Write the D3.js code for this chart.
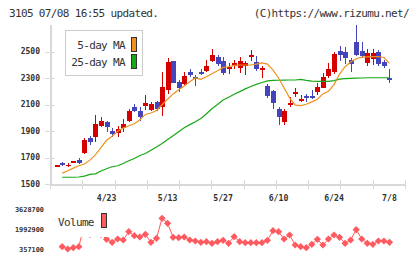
<!DOCTYPE html>
<html>
<head>
<meta charset="utf-8">
<script src="https://cdn.jsdelivr.net/npm/d3@7"></script>
<style>
  body { margin: 0; background: #fff; }
  svg { display: block; }
  text { font-family: "DejaVu Sans Mono", monospace; fill: #333; }
</style>
</head>
<body>
<svg id="chart" width="420" height="259"></svg>
<script>

// trading days, only the labelled ones are named
const dateLabels = [ [9,"4/23"], [20,"5/13"], [30,"5/27"], [40,"6/10"], [50,"6/24"], [60,"7/8"] ]

const openP  = [1630,1655,1636,1663,1683,1732,1845,1857,1938,1966,1902,1885,1923,1978,2083,2053,2085,2060,2117,2083,
                2209,2428,2270,2257,2345,2307,2345,2355,2428,2458,2428,2368,2388,2379,2394,2456,2419,2360,2240,2204,
                2068,1968,2098,2179,2125,2164,2164,2194,2227,2315,2345,2504,2496,2436,2572,2502,2415,2445,2496,2421,2302]
const highP  = [1640,1666,1661,1675,1696,1850,1862,2021,2003,1973,1920,1940,1988,2064,2101,2079,2170,2121,2128,2349,
                2453,2428,2285,2347,2366,2322,2366,2436,2519,2474,2456,2411,2436,2456,2430,2511,2466,2391,2255,2209,
                2083,2064,2159,2224,2170,2181,2209,2260,2340,2415,2494,2542,2532,2449,2700,2572,2519,2519,2511,2434,2368]
const lowP   = [1630,1636,1626,1660,1651,1724,1792,1815,1928,1892,1857,1855,1895,1970,2046,1975,2060,2051,2049,2013,
                2179,2264,2197,2246,2310,2238,2322,2347,2419,2391,2322,2330,2370,2338,2325,2426,2355,2300,2147,2068,
                1948,1948,2079,2155,2117,2121,2140,2170,2222,2302,2330,2430,2403,2347,2466,2453,2393,2396,2391,2379,2260]
const closeP = [1640,1645,1646,1673,1658,1832,1819,1953,1973,1933,1880,1915,1953,2051,2053,2008,2115,2104,2066,2230,
                2421,2264,2222,2315,2325,2290,2332,2391,2474,2406,2340,2385,2413,2426,2411,2471,2370,2374,2164,2109,
                2008,2053,2114,2194,2140,2151,2149,2230,2307,2368,2483,2471,2453,2408,2476,2468,2489,2491,2408,2388,2283]

const ma5  = [null,1582,1600,1620,1638,1651,1680,1722,1775,1830,1860,1898,1922,1940,1955,1985,2025,2036,2055,2098,
              2140,2180,2212,2240,2272,2300,2290,2310,2332,2355,2380,2385,2395,2398,2398,2398,2405,2414,2405,2360,
              2300,2225,2150,2095,2092,2102,2120,2140,2180,2200,2250,2330,2385,2420,2445,2457,2460,2462,2462,2455,2411]
const ma25 = [null,1551,1551,1551,1553,1560,1572,1577,1598,1615,1630,1638,1655,1676,1692,1715,1730,1755,1780,1805,
              1835,1865,1895,1925,1948,1970,1995,2030,2068,2100,2134,2155,2178,2197,2218,2236,2252,2266,2278,2282,
              2283,2284,2285,2285,2290,2282,2276,2275,2275,2275,2280,2292,2295,2297,2299,2300,2302,2302,2302,2302,2302]

const volume = [null,569800,381600,488000,569800,2426400,1567600,2262800,1567600,1175000,929600,1199500,1117800,1796600,1469400,1363100,1584000,929600,1256800,2892600,
                2483600,1338600,1305900,1363100,1117800,1036000,929600,978700,847800,978700,1093200,847800,1387700,978700,896900,896900,896900,896900,1093200,1878400,
                1796600,1199500,1526700,708800,569800,488000,766000,1175000,708800,1199500,1526700,1338600,847800,1117800,1960200,1199500,847800,766000,1036000,1036000,929600]

const priceTicks  = [1500,1700,1900,2100,2300,2500]
const volumeTicks = [357100,1992900,3628700]

const svg = d3.select("#chart")

const x = d3.scaleLinear()
            .domain( [-1.2, 62.8] )
            .range( [50, 405] )

const y = d3.scaleLinear()
            .domain( [1500, 2700] )
            .range( [184, 25] )

const yVol = d3.scaleLinear()
               .domain( [357100, 3628700] )
               .range( [249.3, 209.3] )

const gridColor = "#d8d8d8"

// header
svg.append("text")
   .attr("x", 9).attr("y", 16.5)
   .attr("font-size", 11).attr("letter-spacing", -0.65)
   .text("3105 07/08 16:55 updated.")

svg.append("text")
   .attr("x", 409).attr("y", 16.5)
   .attr("text-anchor", "end")
   .attr("font-size", 11).attr("letter-spacing", -0.65)
   .text("(C)https://www.rizumu.net/")

// axes
const axisG = svg.append("g").attr("shape-rendering", "crispEdges")

axisG.append("line")
     .attr("x1", 50.5).attr("x2", 50.5)
     .attr("y1", 25).attr("y2", 184)
     .attr("stroke", gridColor).attr("stroke-width", 2)

axisG.append("line")
     .attr("x1", 50).attr("x2", 405)
     .attr("y1", 184.5).attr("y2", 184.5)
     .attr("stroke", gridColor).attr("stroke-width", 2)

axisG.selectAll(".ytick")
     .data( priceTicks )
     .enter()
     .append("line")
     .attr("x1", 45).attr("x2", 55)
     .attr("y1", d => Math.round(y(d)) + 0.5)
     .attr("y2", d => Math.round(y(d)) + 0.5)
     .attr("stroke", gridColor).attr("stroke-width", 1.5)

svg.selectAll(".ylabel")
   .data( priceTicks )
   .enter()
   .append("text")
   .attr("x", 40)
   .attr("y", d => y(d))
   .attr("dy", "0.35em")
   .attr("text-anchor", "end")
   .attr("font-size", 8).attr("font-weight", "bold")
   .text( d => d )

const xTicks = d3.scaleLinear().domain([0, 11]).range([50, 405])

axisG.selectAll(".xtick")
     .data( d3.range(12) )
     .enter()
     .append("line")
     .attr("x1", d => Math.round(xTicks(d)) + 0.5)
     .attr("x2", d => Math.round(xTicks(d)) + 0.5)
     .attr("y1", 180).attr("y2", 189)
     .attr("stroke", gridColor).attr("stroke-width", 1.5)

svg.selectAll(".xlabel")
   .data( dateLabels )
   .enter()
   .append("text")
   .attr("x", d => x(d[0]))
   .attr("y", 201)
   .attr("text-anchor", "middle")
   .attr("font-size", 8.2).attr("font-weight", "bold")
   .text( d => d[1] )

// candles
const candleData = closeP.map( (c, i) => ({ i: i, o: openP[i], h: highP[i], l: lowP[i], c: c }) )

const candles = svg.append("g")
                   .attr("shape-rendering", "crispEdges")
                   .selectAll("g")
                   .data( candleData )
                   .enter()
                   .append("g")

candles.append("line")
       .attr("x1", d => Math.round(x(d.i)) + 0.5)
       .attr("x2", d => Math.round(x(d.i)) + 0.5)
       .attr("y1", d => y(d.h))
       .attr("y2", d => y(d.l))
       .attr("stroke", d => d.c >= d.o ? "#d40000" : "#4444bb")
       .attr("stroke-width", 1.3)

candles.append("rect")
       .attr("x", d => Math.round(x(d.i)) - 2)
       .attr("width", 5)
       .attr("y", d => y(Math.max(d.o, d.c)))
       .attr("height", d => Math.max(1.5, Math.abs(y(d.o) - y(d.c))))
       .attr("fill", d => d.c >= d.o ? "#d40000" : "#4444bb")

// moving averages
const maLine = d3.line()
                 .defined( d => d != null )
                 .x( (d, i) => x(i) )
                 .y( d => y(d) )

svg.append("path")
   .datum( ma25 )
   .attr("d", maLine)
   .attr("fill", "none")
   .attr("stroke", "#17a817")
   .attr("stroke-width", 1.2)

svg.append("path")
   .datum( ma5 )
   .attr("d", maLine)
   .attr("fill", "none")
   .attr("stroke", "#f0901e")
   .attr("stroke-width", 1.2)

// legend
const legend = svg.append("g")

legend.append("rect")
      .attr("x", 65.5).attr("y", 30.5)
      .attr("width", 77).attr("height", 45)
      .attr("fill", "#fff")
      .attr("stroke", "#ccc")

const legendItems = [ ["5-day MA", "#f0901e", 45], ["25-day MA", "#17a817", 62] ]

legend.selectAll("text")
      .data( legendItems )
      .enter()
      .append("text")
      .attr("x", 125)
      .attr("y", d => d[2])
      .attr("dy", "0.35em")
      .attr("text-anchor", "end")
      .attr("font-size", 11).attr("letter-spacing", -0.65)
      .text( d => d[0] )

legend.selectAll(".swatch")
      .data( legendItems )
      .enter()
      .append("rect")
      .attr("x", 131.5)
      .attr("y", d => d[2] - 7.5)
      .attr("width", 5).attr("height", 14)
      .attr("fill", d => d[1])
      .attr("stroke", "#333")

// volume
const volLine = d3.line()
                  .defined( d => d != null )
                  .x( (d, i) => x(i) )
                  .y( d => yVol(d) )

svg.append("path")
   .datum( volume )
   .attr("d", volLine)
   .attr("fill", "none")
   .attr("stroke", "#ff5a5f")
   .attr("stroke-width", 1)

svg.selectAll(".vol")
   .data( volume.map( (v, i) => [i, v] ).filter( d => d[1] != null ) )
   .enter()
   .append("path")
   .attr("d", d => {
      let cx = x(d[0]), cy = yVol(d[1]), r = 3.6
      return "M" + cx + "," + (cy - r) + "L" + (cx + r) + "," + cy + "L" + cx + "," + (cy + r) + "L" + (cx - r) + "," + cy + "Z"
   })
   .attr("fill", "#ff5a5f")

svg.selectAll(".vlabel")
   .data( volumeTicks )
   .enter()
   .append("text")
   .attr("x", 44)
   .attr("y", d => yVol(d))
   .attr("dy", "0.35em")
   .attr("text-anchor", "end")
   .attr("font-size", 6.9).attr("font-weight", "bold")
   .text( d => d )

// volume legend sits on top of the line
svg.append("rect")
   .attr("x", 55).attr("y", 203)
   .attr("width", 55).attr("height", 34)
   .attr("fill", "#fff")

svg.append("text")
   .attr("x", 58).attr("y", 222)
   .attr("dy", "0.35em")
   .attr("font-size", 11).attr("letter-spacing", -0.65)
   .text("Volume")

svg.append("rect")
   .attr("x", 101.5).attr("y", 213.5)
   .attr("width", 5).attr("height", 14)
   .attr("fill", "#ff5a5f")
   .attr("stroke", "#333")

</script>
</body>
</html>
